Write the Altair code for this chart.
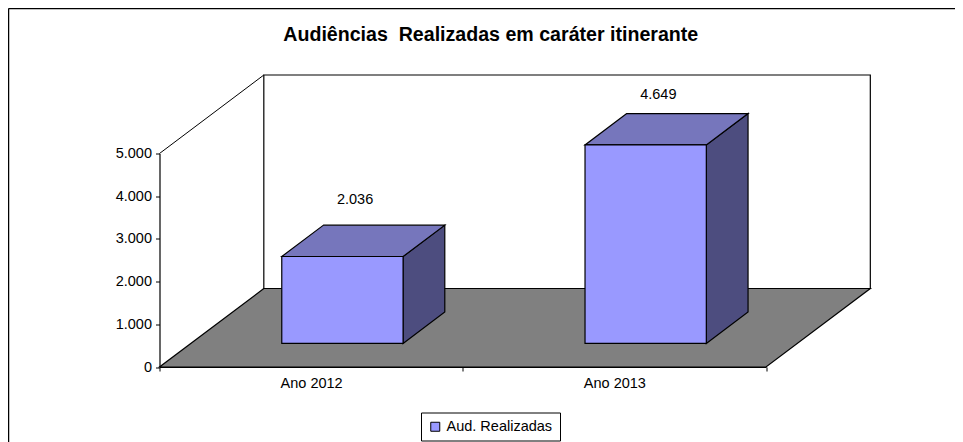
import altair as alt
import pandas as pd

title_text = "Audiências \u00a0Realizadas em caráter itinerante"
categories = ["Ano 2012", "Ano 2013"]
values = [2036, 4649]
series_name = "Aud. Realizadas"
y_ticks = [0, 1000, 2000, 3000, 4000, 5000]

FONT = "Liberation Sans"
SIZE = 14.5
Y_MAX = 5000
DX = 0.344    # category units per full depth
DY = 1838     # value units per full depth
BAR_HALF = 0.2
D0, D1 = 0.3, 0.7


def proj(c, v, d):
    return c + d * DX, v + d * DY


xs = alt.Scale(domain=[0, 2], nice=False, zero=False)
ys = alt.Scale(domain=[0, Y_MAX], nice=False, zero=False)
x_axis = alt.Axis(
    title=None,
    values=[0, 0.5, 1, 1.5, 2], grid=False, domain=True, domainColor="black",
    domainWidth=1.2, tickColor="black", tickSize=4,
    tickOpacity={"condition": {"test": "datum.value == 0.5 || datum.value == 1.5", "value": 0}, "value": 1},
    labelExpr=f"datum.value == 0.5 ? '{categories[0]}' : datum.value == 1.5 ? '{categories[1]}' : ''",
    labelFont=FONT, labelFontSize=SIZE, labelColor="black", labelPadding=5,
    labelFlush=False, labelOverlap=False, labelBound=False)
y_axis = alt.Axis(
    title=None,
    values=y_ticks, grid=False, domain=True, domainColor="black", domainWidth=1.2,
    tickColor="black", tickSize=4,
    labelExpr="replace(format(datum.value, ','), ',', '.')",
    labelFont=FONT, labelFontSize=SIZE, labelColor="black", labelPadding=4,
    labelOverlap=False, labelBound=False)
X = lambda f="x": alt.X(f"{f}:Q", scale=xs, axis=x_axis)
Y = lambda f="y": alt.Y(f"{f}:Q", scale=ys, axis=y_axis)

# back wall
wx0, wy0 = proj(0, 0, 1)
wx1, wy1 = proj(2, Y_MAX, 1)
wall = alt.Chart(pd.DataFrame([{"x": wx0, "x2": wx1, "y": wy0, "y2": wy1}])).mark_rect(
    fill="white", stroke="black", strokeWidth=1.2
).encode(X(), x2="x2:Q", y=Y(), y2="y2:Q")

# left wall top edge
lw = pd.DataFrame([dict(zip("xy", proj(0, Y_MAX, 0))), dict(zip("xy", proj(0, Y_MAX, 1)))])
left_edge = alt.Chart(lw).mark_line(color="black", strokeWidth=1).encode(X(), Y())

# floor
fy0 = proj(0, 0, 0)
fy1 = proj(0, 0, 1)
floor_df = pd.DataFrame([
    {"x": fy0[0], "x2": 2, "y": fy0[1]},
    {"x": fy1[0], "x2": proj(2, 0, 1)[0], "y": fy1[1]},
])
floor = alt.Chart(floor_df).mark_area(
    orient="horizontal", fill="#808080", stroke="black", strokeWidth=1.2
).encode(X(), x2="x2:Q", y=Y())

top_rows, side_rows, front_rows, label_rows = [], [], [], []
for i, (cat, v) in enumerate(zip(categories, values)):
    c = i + 0.5
    l, r = c - BAR_HALF, c + BAR_HALF
    a = proj(l, 0, D0); b = proj(r, v, D0)
    front_rows.append({"x": a[0], "x2": b[0], "y": a[1], "y2": b[1], "series": series_name})
    for d in (D0, D1):
        p = proj(l, v, d); q = proj(r, v, d)
        top_rows.append({"k": cat, "x": p[0], "x2": q[0], "y": p[1]})
    for d in (D0, D1):
        p = proj(r, 0, d); q = proj(r, v, d)
        side_rows.append({"k": cat, "x": p[0], "y": p[1], "y2": q[1]})
    label_rows.append({"x": c + 0.145, "y": 0.941 * v + 1985,
                       "t": f"{v:,}".replace(",", ".")})

top = alt.Chart(pd.DataFrame(top_rows)).mark_area(
    orient="horizontal", fill="#7676BC", stroke="black", strokeWidth=1.2
).encode(X(), x2="x2:Q", y=Y(), detail="k:N")
side = alt.Chart(pd.DataFrame(side_rows)).mark_area(
    orient="vertical", fill="#4D4D7F", stroke="black", strokeWidth=1.2
).encode(X(), y=Y(), y2="y2:Q", detail="k:N")
front = alt.Chart(pd.DataFrame(front_rows)).mark_rect(stroke="black", strokeWidth=1.2).encode(
    X(), x2="x2:Q", y=Y(), y2="y2:Q",
    color=alt.Color("series:N", scale=alt.Scale(domain=[series_name], range=["#9999FF"]),
                    legend=alt.Legend(
                        title=None, orient="none", legendX=261.5, legendY=259,
                        padding=7, strokeColor="black", fillColor="white",
                        symbolType="square", symbolSize=81, symbolStrokeColor="black",
                        symbolStrokeWidth=1, labelOffset=4, labelFont=FONT, labelFontSize=SIZE,
                        labelColor="black")),
)
labels = alt.Chart(pd.DataFrame(label_rows)).mark_text(
    font=FONT, fontSize=SIZE, color="black"
).encode(X(), Y(), text="t:N")

# chart frame: top and left edges only, the rest runs off the picture
frame_top = alt.Chart(pd.DataFrame({"a": [0]})).mark_rule(color="black", strokeWidth=1.5).encode(
    x=alt.value(-151), x2=alt.value(796), y=alt.value(-145))
frame_left = alt.Chart(pd.DataFrame({"a": [0]})).mark_rule(color="black", strokeWidth=1.5).encode(
    x=alt.value(-151), y=alt.value(-145), y2=alt.value(290))

chart = alt.layer(
    frame_top, frame_left, wall, left_edge, floor, side, top, front, labels
).properties(
    width=606.5, height=213.5,
    padding={"left": 151.5, "top": 145.5, "right": 189, "bottom": 75},
    autosize=alt.AutoSizeParams(type="none"),
    title=alt.TitleParams(title_text, font=FONT, fontSize=19.6, fontWeight="bold",
                          color="black", anchor="middle", offset=0, dx=28, dy=47, baseline="middle"),
).configure_view(stroke=None)

chart.save("out.html", embed_options={"renderer": "svg", "actions": False})
